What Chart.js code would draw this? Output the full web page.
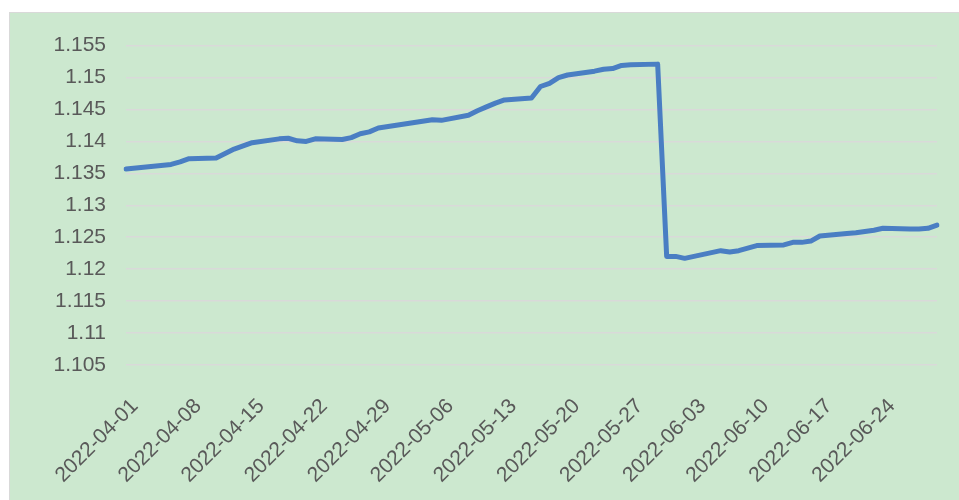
<!DOCTYPE html>
<html>
<head>
<meta charset="utf-8">
<script src="https://cdn.jsdelivr.net/npm/chart.js@4.4.0/dist/chart.umd.min.js"></script>
<style>
  html, body { margin: 0; padding: 0; background: #ffffff; }
  #wrap { position: absolute; left: 9px; top: 12px; width: 950px; height: 488px;
          background: #cce8cf; border-top: 1px solid #d9d9d9; border-left: 1px solid #d9d9d9; box-sizing: border-box; }
  canvas { display: block; }
</style>
</head>
<body>
<div id="wrap"><canvas id="c"></canvas></div>
<script>
// Trading dates and values
const tradeDates = [
  "2022-04-01","2022-04-06","2022-04-07","2022-04-08","2022-04-11","2022-04-12","2022-04-13","2022-04-14","2022-04-15",
  "2022-04-18","2022-04-19","2022-04-20","2022-04-21","2022-04-22","2022-04-25","2022-04-26","2022-04-27","2022-04-28","2022-04-29",
  "2022-05-05","2022-05-06","2022-05-09","2022-05-10","2022-05-11","2022-05-12","2022-05-13",
  "2022-05-16","2022-05-17","2022-05-18","2022-05-19","2022-05-20","2022-05-23","2022-05-24","2022-05-25","2022-05-26","2022-05-27",
  "2022-05-30","2022-05-31","2022-06-01","2022-06-02","2022-06-06","2022-06-07","2022-06-08","2022-06-09","2022-06-10",
  "2022-06-13","2022-06-14","2022-06-15","2022-06-16","2022-06-17","2022-06-20","2022-06-21","2022-06-22","2022-06-23","2022-06-24",
  "2022-06-27","2022-06-28","2022-06-29","2022-06-30"
];
const navValues = [
  1.1357,1.1364,1.1368,1.1373,1.1374,1.1381,1.1388,1.1393,1.1398,
  1.1404,1.1405,1.1401,1.1400,1.1404,1.1403,1.1406,1.1412,1.1415,1.1421,
  1.1434,1.1433,1.1441,1.1448,1.1454,1.1460,1.1465,
  1.1468,1.1486,1.1491,1.1500,1.1504,1.1510,1.1513,1.1514,1.1519,1.1520,
  1.1521,1.1220,1.1220,1.1217,1.1229,1.1227,1.1229,1.1233,1.1237,
  1.1238,1.1242,1.1242,1.1244,1.1252,1.1256,1.1257,1.1259,1.1261,1.1264,
  1.1263,1.1263,1.1264,1.1269
];
const yMin = 1.105, yMax = 1.155, yStep = 0.005;
const labelEvery = 7;

// Build the calendar-day category axis (Excel-style date axis)
function fmt(d) {
  const m = String(d.getUTCMonth() + 1).padStart(2, "0");
  const dd = String(d.getUTCDate()).padStart(2, "0");
  return d.getUTCFullYear() + "-" + m + "-" + dd;
}
const dayLabels = [];
{
  const start = new Date(tradeDates[0] + "T00:00:00Z");
  const end = new Date(tradeDates[tradeDates.length - 1] + "T00:00:00Z");
  for (let t = start.getTime(); t <= end.getTime(); t += 86400000) dayLabels.push(fmt(new Date(t)));
}
const valueByDate = {};
tradeDates.forEach((d, i) => { valueByDate[d] = navValues[i]; });
const seriesData = dayLabels.map(d => (d in valueByDate ? valueByDate[d] : null));

const wrap = document.getElementById("wrap");
const cv = document.getElementById("c");
cv.width = wrap.clientWidth; cv.height = wrap.clientHeight;

const FONT = "'Liberation Sans', Arial, sans-serif";
new Chart(cv, {
  type: "line",
  data: {
    labels: dayLabels,
    datasets: [{
      data: seriesData,
      borderColor: "#4a7ec3",
      borderWidth: 5,
      pointRadius: 0,
      tension: 0,
      spanGaps: true,
      fill: false,
      borderJoinStyle: "round",
      borderCapStyle: "round"
    }]
  },
  options: {
    responsive: false,
    animation: false,
    events: [],
    layout: { padding: { left: 0, right: 22, top: 30, bottom: 0 } },
    plugins: { legend: { display: false }, tooltip: { enabled: false } },
    scales: {
      x: {
        type: "category",
        offset: false,
        grid: { display: false },
        border: { display: false },
        afterFit: s => { s.height = 135; },
        ticks: {
          autoSkip: false,
          maxRotation: 45,
          minRotation: 45,
          padding: 21,
          labelOffset: 9,
          color: "#595959",
          font: { family: FONT, size: 21 },
          callback: function (v, i) { return i % labelEvery === 0 ? this.getLabelForValue(v) : null; }
        }
      },
      y: {
        min: yMin, max: yMax,
        afterFit: s => { s.width = 116; },
        grid: { color: "#d9d9d9", lineWidth: 1.5, drawTicks: false },
        border: { display: false },
        ticks: {
          stepSize: yStep,
          padding: 20,
          color: "#595959",
          font: { family: FONT, size: 21 },
          callback: v => String(parseFloat(v.toFixed(3)))
        }
      }
    }
  }
});
</script>
</body>
</html>
